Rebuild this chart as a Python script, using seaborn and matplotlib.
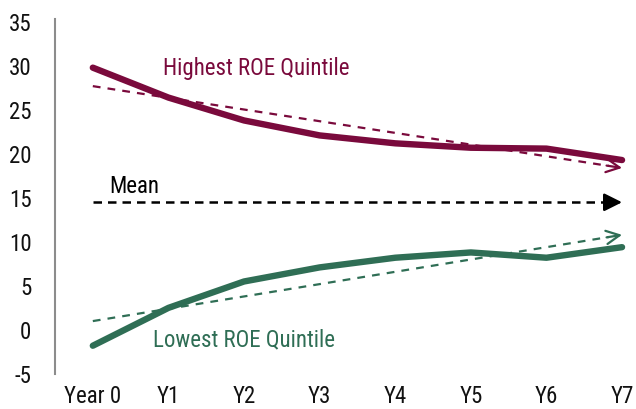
import matplotlib
matplotlib.use("Agg")
import matplotlib.pyplot as plt
import seaborn as sns
import pandas as pd
from matplotlib import font_manager

# ---- data ----
periods = ["Year 0", "Y1", "Y2", "Y3", "Y4", "Y5", "Y6", "Y7"]
highest_roe = [29.7, 26.3, 23.7, 22.0, 21.1, 20.6, 20.5, 19.2]
lowest_roe = [-1.9, 2.4, 5.4, 7.0, 8.1, 8.7, 8.1, 9.3]
high_trend_ends = [27.6, 18.3]
low_trend_ends = [0.9, 10.7]
mean_level = [14.4, 14.4]
y_ticks = [-5, 0, 5, 10, 15, 20, 25, 30, 35]

sns.set_theme(style="white")

# look for a condensed / narrow sans face
narrow_file = None
prefs = ["Liberation Sans Narrow", "Arial Narrow", "Roboto Condensed", "Open Sans Condensed",
         "DejaVu Sans Condensed", "Noto Sans Condensed", "DejaVu Sans"]
cands = []
for f in font_manager.fontManager.ttflist:
    st = str(f.stretch).lower()
    nm = f.name
    is_narrow = ("narrow" in nm.lower() or "condensed" in nm.lower()
                 or st in ("condensed", "semi-condensed", "extra-condensed", "ultra-condensed")
                 or "condensed" in f.fname.lower() or "narrow" in f.fname.lower())
    if is_narrow and f.style == "normal" and f.weight in (400, "normal", "regular"):
        rank = next((i for i, p in enumerate(prefs) if nm.startswith(p)), len(prefs))
        cands.append((rank, f.fname, nm))
cands.sort()
if cands:
    narrow_file = cands[0][1]

if narrow_file:
    font_manager.fontManager.addfont(narrow_file)
    fp = font_manager.FontProperties(fname=narrow_file)
    SIZE = 16.5
else:
    fp = font_manager.FontProperties(family="Liberation Sans")
    SIZE = 14.5
plt.rcParams["font.family"] = ["Liberation Sans", "DejaVu Sans"]

MAROON = "#7A0A3C"
GREEN = "#2F6E55"

fig = plt.figure(figsize=(6.36, 4.10), dpi=100)
ax = fig.add_axes([0.0865, 0.0878, 0.951, 0.8585])

x_idx = list(range(len(periods)))
df = pd.DataFrame({"x": x_idx * 2,
                   "v": highest_roe + lowest_roe,
                   "s": ["high"] * len(periods) + ["low"] * len(periods)})
sns.lineplot(data=df, x="x", y="v", hue="s", palette={"high": MAROON, "low": GREEN},
             linewidth=4.6, legend=False, ax=ax, solid_capstyle="round")

ends_x = [x_idx[0], x_idx[-1]]
trend_specs = [(high_trend_ends, MAROON, 1.6, (3.5, 3.2), "->", 0.8, 0.4),
               (low_trend_ends, GREEN, 1.6, (3.5, 3.2), "->", 0.8, 0.4),
               (mean_level, "black", 1.8, (3.4, 2.4), "-|>", 0.9, 0.45)]
for ys, col, lw, dash, style, hl, hw in trend_specs:
    frac = 0.975
    xe = ends_x[0] + (ends_x[1] - ends_x[0]) * frac
    ye = ys[0] + (ys[1] - ys[0]) * frac
    ax.plot([ends_x[0], xe], [ys[0], ye], color=col, lw=lw, dashes=dash)
    ax.annotate("", xy=(ends_x[1], ys[1]), xytext=(xe - 0.03, ye - (ys[1] - ys[0]) * 0.0043),
                arrowprops=dict(arrowstyle=f"{style},head_length={hl},head_width={hw}",
                                color=col, lw=lw, shrinkA=0, shrinkB=0))

ax.text(0.93, 29.7, "Highest ROE Quintile", color=MAROON, fontproperties=fp, fontsize=SIZE,
        va="center", ha="left")
ax.text(0.22, 16.3, "Mean", color="black", fontproperties=fp, fontsize=SIZE, va="center", ha="left")
ax.text(0.79, -1.1, "Lowest ROE Quintile", color=GREEN, fontproperties=fp, fontsize=SIZE,
        va="center", ha="left")

ax.set_xlim(-0.5, 7.5)
ax.set_ylim(-5, 35)
ax.set_yticks(y_ticks)
ax.set_yticklabels([str(t) for t in y_ticks])
ax.set_xticks(x_idx)
ax.set_xticklabels(periods)
ax.tick_params(axis="both", length=0, colors="#111111")
ax.tick_params(axis="x", pad=8)
ax.tick_params(axis="y", pad=17)
for lab in ax.get_xticklabels() + ax.get_yticklabels():
    lab.set_fontproperties(fp)
    lab.set_fontsize(SIZE)
ax.set_xlabel("")
ax.set_ylabel("")
for side in ["top", "right", "bottom"]:
    ax.spines[side].set_visible(False)
ax.spines["left"].set_color("#8c8c8c")
ax.spines["left"].set_linewidth(1.5)
ax.spines["left"].set_bounds(-5.1, 35.2)

fig.savefig("out.png", dpi=100)
